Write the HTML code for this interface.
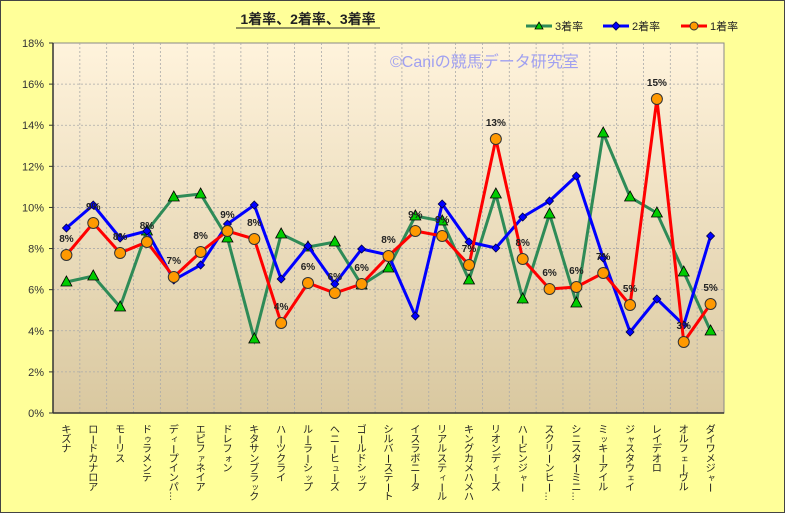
<!DOCTYPE html>
<html><head><meta charset="utf-8"><style>
html,body{margin:0;padding:0;background:#fff}
svg{display:block;font-family:"Liberation Sans","Noto Sans CJK JP",sans-serif}
</style></head><body>
<svg id="c" width="785" height="513" xmlns="http://www.w3.org/2000/svg">
<defs>
<linearGradient id="pg" x1="0" y1="0" x2="0" y2="1">
<stop offset="0" stop-color="#FFF3DC"/><stop offset="1" stop-color="#D9C8A0"/>
</linearGradient>
</defs>
<rect x="0.5" y="0.5" width="784" height="512" fill="#FFFF99" stroke="#444" stroke-width="1"/>
<rect x="53" y="43" width="671" height="370" fill="url(#pg)" stroke="#888"/>
<g id="grid"></g>
<line x1="53" y1="43" x2="53" y2="413" stroke="#333" stroke-width="1.5"/>
<line x1="53" y1="413" x2="724" y2="413" stroke="#333" stroke-width="1.5"/>
<g id="ylab" font-size="11" fill="#333" text-anchor="end"></g>
<text x="308" y="24" font-size="14" font-weight="bold" text-anchor="middle" fill="#222">1着率、2着率、3着率</text>
<line x1="236" y1="28" x2="380" y2="28" stroke="#222" stroke-width="1"/>
<text x="390" y="67" font-size="16" fill="#A0A0F0">©Caniの競馬データ研究室</text>
<g font-size="11" fill="#222">
<line x1="526" y1="26" x2="552" y2="26" stroke="#2E8B57" stroke-width="3"/><polygon points="539,22 543,29 535,29" fill="#0c0" stroke="#000" stroke-width="0.8"/><text x="555" y="30">3着率</text>
<line x1="603" y1="26" x2="629" y2="26" stroke="#00f" stroke-width="3"/><polygon points="616,22 620,26 616,30 612,26" fill="#00f" stroke="#006"/><text x="632" y="30">2着率</text>
<line x1="681" y1="26" x2="707" y2="26" stroke="#f00" stroke-width="3"/><circle cx="694" cy="26" r="4" fill="#F90" stroke="#333"/><text x="710" y="30">1着率</text>
</g>
<g id="series"></g>
<g id="xlab" font-size="10" fill="#222" text-anchor="middle"></g>
</svg>
<script>
const NS="http://www.w3.org/2000/svg";
function el(t,a,p,txt){const e=document.createElementNS(NS,t);for(const k in a)e.setAttribute(k,a[k]);if(txt!==undefined)e.textContent=txt;p.appendChild(e);return e;}
const grid=document.getElementById('grid'),yl=document.getElementById('ylab'),ser=document.getElementById('series'),xl=document.getElementById('xlab');
const W=671/25;
for(let i=1;i<25;i++){const x=53+i*W;el('line',{x1:x,y1:43,x2:x,y2:413,stroke:'#aaa','stroke-dasharray':'2,2','stroke-width':0.8},grid);}
for(let v=0;v<=18;v+=2){const y=413-v*370/18;if(v>0&&v<18)el('line',{x1:53,y1:y,x2:724,y2:y,stroke:'#aaa','stroke-dasharray':'2,2','stroke-width':0.8},grid);el('text',{x:44,y:y+4},yl,v+'%');el('line',{x1:49,y1:y,x2:53,y2:y,stroke:'#333'},grid);}
const cx=i=>53+W/2+i*W;
const red=[255,223,253,242,277,252,231,239,323,283,293,284,256,231,236,265,139,259,289,287,273,305,99,342,304];
const blue=[228,205,238,231,280,265,224,205,279,246,284,249,255,316,204,242,248,217,201,176,258,332,299,325,236];
const green=[282,276,307,231,197,194,238,339,234,247,242,285,268,216,221,280,194,299,214,303,133,197,213,272,331];
const lab=['8%','9%','8%','8%','7%','8%','9%','8%','4%','6%','6%','6%','8%','9%','9%','7%','13%','8%','6%','6%','7%','5%','15%','3%','5%'];
function pts(a){return a.map((y,i)=>cx(i)+','+y).join(' ');}
el('polyline',{points:pts(green),fill:'none',stroke:'#2E8B57','stroke-width':3},ser);
green.forEach((y,i)=>{const x=cx(i);el('polygon',{points:`${x},${y-6} ${x+5.5},${y+4} ${x-5.5},${y+4}`,fill:'#0c0',stroke:'#000','stroke-width':0.8},ser);});
el('polyline',{points:pts(blue),fill:'none',stroke:'#00f','stroke-width':3},ser);
blue.forEach((y,i)=>{const x=cx(i);el('polygon',{points:`${x},${y-4} ${x+4},${y} ${x},${y+4} ${x-4},${y}`,fill:'#00f',stroke:'#004','stroke-width':0.8},ser);});
el('polyline',{points:pts(red),fill:'none',stroke:'#f00','stroke-width':3},ser);
red.forEach((y,i)=>{const x=cx(i);el('circle',{cx:x,cy:y,r:5.5,fill:'#F90',stroke:'#333','stroke-width':1},ser);el('text',{x:x,y:y-13,'font-size':10,'font-weight':'bold','text-anchor':'middle',fill:'#222'},ser,lab[i]);});
const names=['キズナ','ロードカナロア','モーリス','ドゥラメンテ','ディープインパ…','エピファネイア','ドレフォン','キタサンブラック','ハーツクライ','ルーラーシップ','ヘニーヒューズ','ゴールドシップ','シルバーステート','イスラボニータ','リアルスティール','キングカメハメハ','リオンディーズ','ハービンジャー','スクリーンヒー…','シニスターミニ…','ミッキーアイル','ジャスタウェイ','レイデオロ','オルフェーヴル','ダイワメジャー'];
const small='ァィゥェォッャュョ';
names.forEach((n,i)=>{const x=cx(i);let y=433;
 for(const ch of n){
  if(ch==='ー'){el('line',{x1:x,y1:y-7,x2:x,y2:y+1,stroke:'#222','stroke-width':1},xl);}
  else if(ch==='…'){el('text',{x:x,y:y,transform:`rotate(90 ${x} ${y-4})`},xl,'…');}
  else if(small.includes(ch)){el('text',{x:x+1,y:y-1,'font-size':8},xl,ch);}
  else el('text',{x:x,y:y},xl,ch);
  y+=9.6;}
});
</script>
</body></html>
